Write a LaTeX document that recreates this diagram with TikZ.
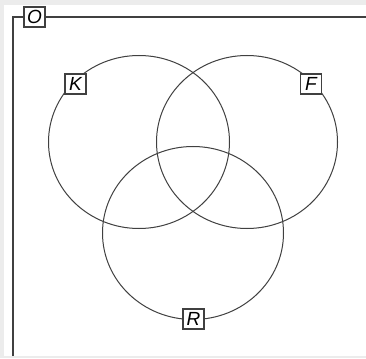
\documentclass[tikz,border=0pt]{standalone}
\usepackage{fontspec}
\setmainfont{Liberation Sans}
\usetikzlibrary{positioning}
\definecolor{bggray}{HTML}{ECECEC}
\definecolor{linegray}{HTML}{404040}

\begin{document}
\begin{tikzpicture}[x=1pt,y=-1pt,font=\fontsize{19}{19}\selectfont\itshape]
  \tikzset{
    setlabel/.style={draw=linegray,line width=1.2pt,fill=white,inner sep=0pt,minimum width=21pt,minimum height=20pt},
    setcircle/.style={draw=linegray,line width=1pt},
    frame/.style={draw=linegray,line width=1.1pt}
  }

  % Background and panel
  \useasboundingbox (0,0) rectangle (366,358);
  \fill[bggray] (0,0) rectangle (366,358);
  \fill[white] (4,5) rectangle (366,356);

  % Universe frame, cut off to the right and below
  \coordinate (fbl) at (13,356);
  \coordinate (ftl) at (13,17);
  \coordinate (ftr) at (366,17);
  \draw[frame] (fbl) -- (ftl) -- (ftr);

  % The three sets
  \draw[setcircle] (139,142) ellipse [x radius=90.5, y radius=86.5];
  \draw[setcircle] (247,142) ellipse [x radius=90.5, y radius=86.5];
  \draw[setcircle] (193,233) ellipse [x radius=90.5, y radius=86.5];

  % Set names
  \node[setlabel] (O) at (34.5,17) {O};
  \node[setlabel] (K) at (75.5,84) {K};
  \node[setlabel] (F) at (311,84) {F};
  \node[setlabel] (R) at (193.5,319) {R};
\end{tikzpicture}
\end{document}
